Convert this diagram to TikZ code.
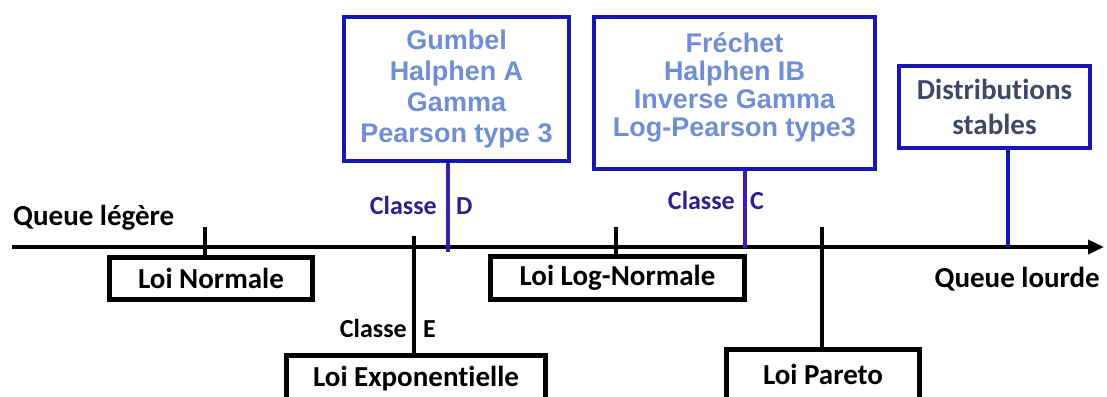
\documentclass[tikz,border=0pt]{standalone}
\usepackage{fontspec}
\setmainfont{Carlito}[Ligatures=NoCommon]
\newfontfamily\arialfont{Liberation Sans}
\usetikzlibrary{arrows.meta}

\definecolor{bordbleu}{RGB}{22,22,180}
\definecolor{textebleu}{RGB}{112,142,212}
\definecolor{classebleu}{RGB}{52,30,140}
\definecolor{traitclasse}{RGB}{66,26,182}
\definecolor{ardoise}{RGB}{62,72,104}

\begin{document}
\begin{tikzpicture}[x=1pt,y=-1pt,
		loi/.style={draw,line width=5pt,inner sep=0pt,font=\fontsize{29}{34}\selectfont\bfseries},
		famille/.style={draw=bordbleu,line width=4pt,inner sep=0pt,align=center,text=textebleu},
		classe/.style={inner sep=0pt,font=\fontsize{26}{30}\selectfont\bfseries},
		queue/.style={inner sep=0pt,font=\fontsize{29}{34}\selectfont\bfseries}
		]
	
	\useasboundingbox (0,0) rectangle (1107,396);
	
	% axe des queues
	\coordinate (debut) at (12,247);
	\coordinate (fin) at (1104,247);
	\draw[line width=3.5pt,-{Triangle[length=16pt,width=14pt]}] (debut) -- (fin);
	\node[queue,anchor=base west] (legere) at (13,225) {Queue légère};
	\node[queue,anchor=base east] (lourde) at (1100,287) {Queue lourde};
	
	% lois sous l'axe
	\node[loi,minimum width=203pt,minimum height=42pt] (normale) at (211,278.5) {Loi Normale};
	\node[loi,minimum width=254pt,minimum height=43pt] (lognormale) at (617.5,278) {Loi Log-Normale};
	\node[loi,minimum width=259pt,minimum height=47pt] (expo) at (416,379) {Loi Exponentielle};
	\node[loi,minimum width=193pt,minimum height=50pt] (pareto) at (823,374) {Loi Pareto};
	
	\coordinate (tN) at (205,227);
	\coordinate (tLN) at (616,227);
	\coordinate (tE) at (414,236);
	\coordinate (tP) at (822,227);
	\draw[line width=4pt] (tN) -- (tN |- normale.north);
	\draw[line width=4pt] (tLN) -- (tLN |- lognormale.north);
	\draw[line width=4pt] (tE) -- (tE |- expo.north);
	\draw[line width=4pt] (tP) -- (tP |- pareto.north);
	
	% familles au-dessus de l'axe
	\node[famille,minimum width=225pt,minimum height=144pt,
		font=\arialfont\bfseries\fontsize{27}{31}\selectfont] (gumbel) at (456.5,89)
		{Gumbel\\Halphen A\\Gamma\\Pearson type 3};
	\node[famille,minimum width=281pt,minimum height=152pt,
		font=\arialfont\bfseries\fontsize{27}{28}\selectfont] (frechet) at (734.5,93)
		{Fréchet\\Halphen IB\\Inverse Gamma\\Log-Pearson type3\\[-12pt]\mbox{}};
	\node[famille,text=ardoise,minimum width=191pt,minimum height=82pt,
		font=\fontsize{29}{35}\selectfont\bfseries] (stables) at (994.5,107)
		{Distributions\\stables};
	
	\coordinate (dD) at (448,252);
	\coordinate (dC) at (745,248);
	\coordinate (dS) at (1008,247);
	\draw[traitclasse,line width=3.5pt] (dD |- gumbel.south) -- (dD);
	\draw[traitclasse,line width=3.5pt] (dC |- frechet.south) -- (dC);
	\draw[bordbleu,line width=3.5pt] (dS |- stables.south) -- (dS);
	
	% noms des classes
	\node[classe,text=classebleu,anchor=base east] (classeD) at (437,214) {Classe};
	\node[classe,text=classebleu,anchor=base west] (lettreD) at (456,214) {D};
	\node[classe,text=classebleu,anchor=base east] (classeC) at (735,209) {Classe};
	\node[classe,text=classebleu,anchor=base west] (lettreC) at (750,209) {C};
	\node[classe,anchor=base east] (classeE) at (407,337) {Classe};
	\node[classe,anchor=base west] (lettreE) at (423,337) {E};
	
\end{tikzpicture}
\end{document}
